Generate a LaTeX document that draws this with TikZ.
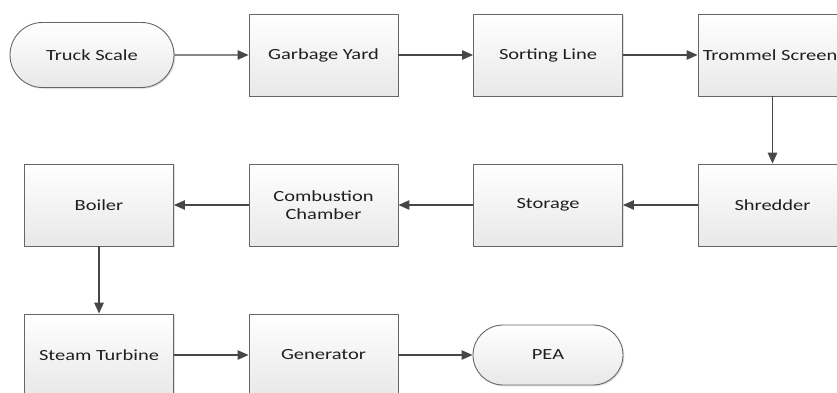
\documentclass[tikz,border=0pt]{standalone}
\usepackage{fontspec}
\newfontfamily\boxfont[FakeStretch=1.32]{Carlito}
\usetikzlibrary{arrows.meta,shapes.misc,shadows}

\begin{document}
\begin{tikzpicture}[x=1pt,y=1pt]
\tikzstyle{every node}+=[inner sep=0pt,font=\boxfont\fontsize{15.5}{17.6}\selectfont,text=black!88]
\tikzstyle{blk}=[rectangle,draw=black!60,line width=0.9pt,top color=white,bottom color=black!9,minimum width=149pt,minimum height=82pt,align=center,drop shadow={shadow xshift=1.3pt,shadow yshift=-1.3pt,opacity=0.25}]
\tikzstyle{term}=[rounded rectangle,draw=black!60,line width=0.9pt,top color=white,bottom color=black!9,drop shadow={shadow xshift=1.3pt,shadow yshift=-1.3pt,opacity=0.25}]
\tikzstyle{flow}=[draw=black!72,line width=1.1pt,-{Triangle[length=11pt,width=9.5pt]}]
\useasboundingbox (0,0) rectangle (837,-392);
\clip (0,0) rectangle (837,-392);
% first row
\node [term,minimum width=164pt,minimum height=65pt] (truck) at (92,-55) {Truck Scale};
\node [blk] (yard) at (323.5,-55) {Garbage Yard};
\node [blk] (sort) at (548,-55) {Sorting Line};
\node [blk] (trommel) at (772.5,-55) {\hspace*{-5pt}Trommel Screen};
% second row
\node [blk] (shred) at (772.5,-205) {Shredder};
\node [blk] (store) at (548,-205) {Storage};
\node [blk] (comb) at (323.5,-205) {Combustion\\Chamber};
\node [blk] (boiler) at (99,-205) {Boiler};
% third row
\node [blk] (turbine) at (99,-355) {Steam Turbine};
\node [blk] (gen) at (323.5,-355) {Generator};
\node [term,minimum width=150pt,minimum height=60pt] (pea) at (548,-355) {PEA};
% arrows
\draw [flow] (truck) -- (yard);
\draw [flow] (yard) -- (sort);
\draw [flow] (sort) -- (trommel);
\draw [flow,line width=1.6pt] (trommel) -- (shred);
\draw [flow] (shred) -- (store);
\draw [flow] (store) -- (comb);
\draw [flow] (comb) -- (boiler);
\draw [flow,line width=1.6pt] (boiler) -- (turbine);
\draw [flow] (turbine) -- (gen);
\draw [flow] (gen) -- (pea);
\end{tikzpicture}
\end{document}
